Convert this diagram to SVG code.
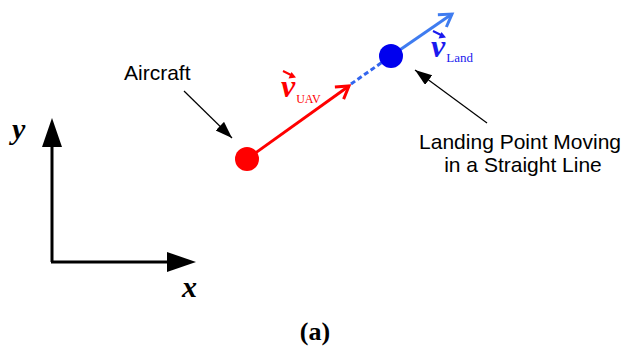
<svg xmlns="http://www.w3.org/2000/svg" width="628" height="348" viewBox="0 0 628 348">
  <style>
    .lbl { font-family: "Liberation Sans", Arial, sans-serif; font-size: 21px; fill: #000; }
    .math { font-family: "Liberation Serif", "Times New Roman", serif; font-weight: bold; font-style: italic; }
    .sub { font-family: "Liberation Serif", "Times New Roman", serif; }
    .callout { stroke: #000; stroke-width: 1.2; fill: none; }
    .axis { stroke: #000; stroke-width: 3; fill: none; }
  </style>
  <defs>
    <marker id="blackTri" markerUnits="userSpaceOnUse" markerWidth="20" markerHeight="14" refX="17" refY="6" orient="auto">
      <path d="M0,0 L17,6 L0,12 Z" fill="#000"/>
    </marker>
    <marker id="redChev" markerUnits="userSpaceOnUse" markerWidth="18" markerHeight="20" refX="14" refY="9" orient="auto">
      <path d="M2,1.5 L14,9 L2,16.5" fill="none" stroke="#ff0000" stroke-width="3" stroke-linejoin="miter"/>
    </marker>
    <marker id="blueChev" markerUnits="userSpaceOnUse" markerWidth="18" markerHeight="20" refX="14" refY="9" orient="auto">
      <path d="M2,1.5 L14,9 L2,16.5" fill="none" stroke="#3f7cf0" stroke-width="3" stroke-linejoin="miter"/>
    </marker>
  </defs>

  <!-- axes -->
  <g id="axes">
    <line class="axis" x1="52" y1="262" x2="52" y2="146"/>
    <path d="M52,118 L62,147 L42,147 Z" fill="#000"/>
    <line class="axis" x1="51" y1="262" x2="168" y2="262"/>
    <path d="M196,262 L167,252 L167,272 Z" fill="#000"/>
    <text class="math" x="12" y="139" font-size="30">y</text>
    <text class="math" x="182" y="297" font-size="30">x</text>
  </g>

  <g id="connectors">
    <!-- red velocity -->
    <line x1="247" y1="159" x2="349" y2="86" stroke="#ff0000" stroke-width="3" marker-end="url(#redChev)"/>
    <!-- dashed blue link -->
    <line x1="351" y1="84" x2="391" y2="56" stroke="#3366ee" stroke-width="3" stroke-dasharray="5,3"/>
    <!-- blue velocity -->
    <line x1="391" y1="56" x2="452" y2="14" stroke="#3f7cf0" stroke-width="3" marker-end="url(#blueChev)"/>
    <!-- callouts -->
    <line class="callout" x1="184" y1="91" x2="232" y2="138" marker-end="url(#blackTri)"/>
    <line class="callout" x1="487" y1="123" x2="415" y2="70" marker-end="url(#blackTri)"/>
  </g>

  <g id="aircraft">
    <circle cx="247" cy="159" r="12" fill="#ff0000"/>
    <text class="lbl" x="124" y="80">Aircraft</text>
  </g>

  <g id="landing-point">
    <circle cx="391" cy="56" r="12" fill="#0000ee"/>
    <text class="lbl" text-anchor="middle">
      <tspan x="523" y="149">Landing Point Moving</tspan>
      <tspan x="523" y="172">in a Straight Line</tspan>
    </text>
  </g>

  <g id="v-uav">
    <text x="281" y="97" fill="#ff0000"><tspan class="math" font-size="32">v</tspan><tspan class="sub" font-size="12" dy="6" dx="1">UAV</tspan></text>
    <path d="M283,71 L292,75.5" stroke="#ff0000" stroke-width="2" fill="none"/>
    <path d="M296,77.5 L288.5,78.5 L291.5,72 Z" fill="#ff0000"/>
  </g>

  <g id="v-land">
    <text x="431" y="57" fill="#1a1aee"><tspan class="math" font-size="32">v</tspan><tspan class="sub" font-size="13" dy="5" dx="1">Land</tspan></text>
    <path d="M433,31 L442,35.5" stroke="#1a1aee" stroke-width="2" fill="none"/>
    <path d="M446,37.5 L438.5,38.5 L441.5,32 Z" fill="#1a1aee"/>
  </g>

  <text id="caption" x="315" y="340" text-anchor="middle" font-family="'Liberation Serif', 'Times New Roman', serif" font-weight="bold" font-size="26">(a)</text>
</svg>
